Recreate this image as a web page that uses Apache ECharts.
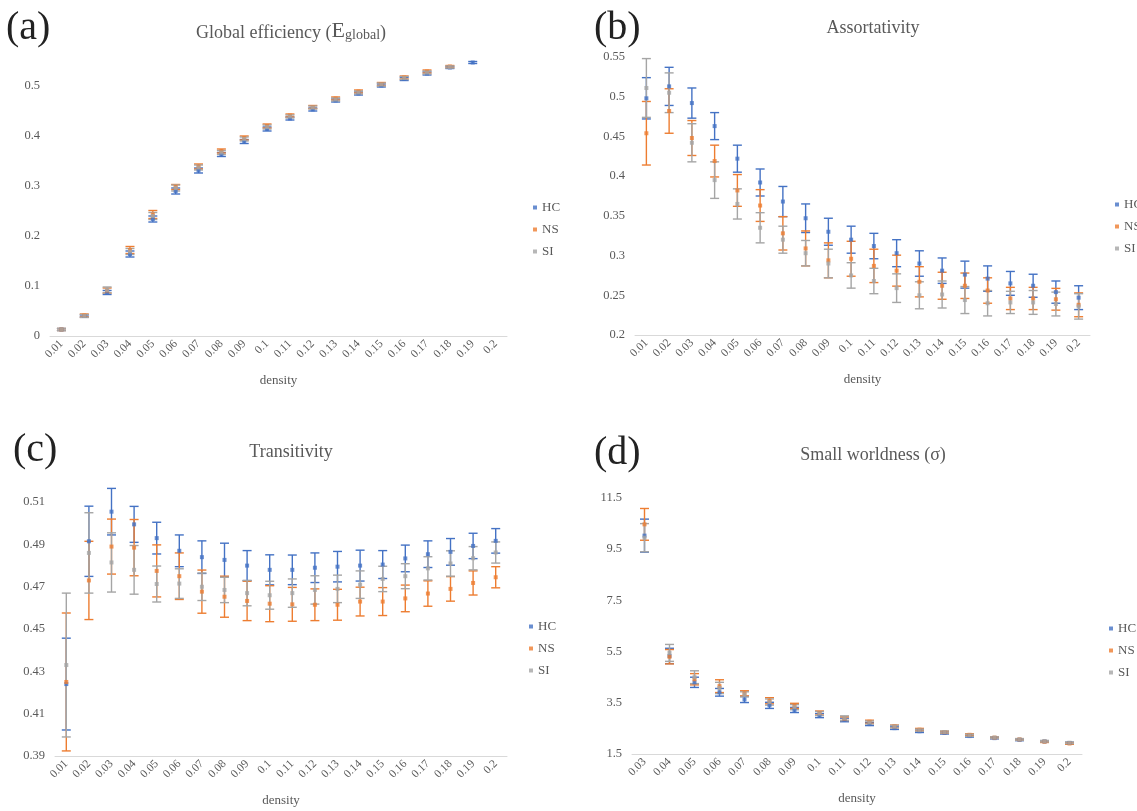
<!DOCTYPE html>
<html>
<head>
<meta charset="utf-8">
<script src="https://cdn.jsdelivr.net/npm/echarts@6/dist/echarts.min.js"></script>
<style>
  html, body { margin: 0; padding: 0; background: #fff; }
  #chart { width: 1137px; height: 811px; }
</style>
</head>
<body>
<div id="chart"></div>
<script>
// density categories
const densAll = ['0.01','0.02','0.03','0.04','0.05','0.06','0.07','0.08','0.09','0.1','0.11','0.12','0.13','0.14','0.15','0.16','0.17','0.18','0.19','0.2']
const densSw = ['0.03','0.04','0.05','0.06','0.07','0.08','0.09','0.1','0.11','0.12','0.13','0.14','0.15','0.16','0.17','0.18','0.19','0.2']

// (a) global efficiency: mean and error
const effHC = [0.013,0.040,0.087,0.164,0.234,0.290,0.331,0.363,0.389,0.414,0.435,0.453,0.471,0.485,0.501,0.514,0.525,0.537,0.547,null]
const effHCErr = [0.002,0.002,0.004,0.006,0.006,0.006,0.005,0.004,0.004,0.004,0.003,0.003,0.003,0.003,0.003,0.003,0.003,0.002,0.002,null]
const effNS = [0.013,0.041,0.091,0.172,0.243,0.298,0.339,0.370,0.396,0.420,0.441,0.458,0.475,0.489,0.504,0.517,0.529,0.539,null,null]
const effNSErr = [0.002,0.003,0.005,0.007,0.008,0.005,0.005,0.004,0.004,0.004,0.003,0.003,0.003,0.003,0.003,0.003,0.003,0.002,null,null]
const effSI = [0.013,0.040,0.092,0.169,0.240,0.296,0.337,0.367,0.394,0.418,0.439,0.457,0.473,0.487,0.503,0.516,0.527,0.538,null,null]
const effSIErr = [0.002,0.003,0.006,0.006,0.007,0.006,0.005,0.004,0.004,0.004,0.003,0.003,0.003,0.003,0.003,0.003,0.003,0.002,null,null]

// (b) assortativity
const asHC = [0.498,0.513,0.492,0.463,0.422,0.392,0.368,0.347,0.330,0.320,0.312,0.303,0.290,0.281,0.276,0.271,0.265,0.262,0.254,0.247]
const asHCErr = [0.026,0.024,0.019,0.017,0.017,0.017,0.019,0.018,0.017,0.017,0.016,0.017,0.016,0.016,0.017,0.016,0.015,0.0145,0.014,0.015]
const asNS = [0.454,0.482,0.448,0.419,0.382,0.363,0.328,0.309,0.294,0.296,0.287,0.281,0.267,0.262,0.262,0.256,0.246,0.246,0.245,0.238]
const asNSErr = [0.040,0.028,0.022,0.020,0.020,0.020,0.021,0.022,0.022,0.022,0.021,0.0195,0.019,0.017,0.016,0.016,0.014,0.014,0.0137,0.015]
const asSI = [0.511,0.505,0.442,0.395,0.365,0.335,0.320,0.303,0.290,0.275,0.268,0.259,0.250,0.251,0.244,0.240,0.241,0.241,0.239,0.236]
const asSIErr = [0.037,0.025,0.024,0.023,0.019,0.019,0.017,0.016,0.018,0.016,0.016,0.018,0.017,0.017,0.017,0.016,0.014,0.015,0.015,0.016]

// (c) transitivity
const trHC = [0.424,0.4915,0.5055,0.4995,0.493,0.487,0.484,0.4827,0.480,0.478,0.478,0.479,0.4795,0.480,0.4805,0.4834,0.4854,0.4865,0.4893,0.4917]
const trHCErr = [0.0217,0.0166,0.011,0.0085,0.0075,0.0075,0.0077,0.0079,0.0071,0.0071,0.007,0.007,0.0072,0.0073,0.0066,0.0063,0.0063,0.0063,0.006,0.0058]
const trNS = [0.425,0.473,0.489,0.4885,0.4775,0.475,0.4677,0.4653,0.4633,0.462,0.4617,0.4615,0.4615,0.463,0.463,0.4645,0.4668,0.469,0.4718,0.4745]
const trNSErr = [0.0326,0.0185,0.013,0.0133,0.0123,0.011,0.0102,0.0097,0.0093,0.0085,0.008,0.0075,0.0073,0.0068,0.0066,0.0063,0.006,0.0058,0.0057,0.005]
const trSI = [0.433,0.486,0.4815,0.478,0.4713,0.4715,0.470,0.4685,0.467,0.466,0.467,0.4685,0.469,0.471,0.4737,0.475,0.4787,0.481,0.4835,0.4862]
const trSIErr = [0.034,0.019,0.014,0.0115,0.0085,0.007,0.0065,0.006,0.006,0.0066,0.0067,0.0067,0.0065,0.0065,0.006,0.0059,0.0055,0.006,0.0055,0.005]

// (d) small worldness
const swHC = [10.03,5.33,4.30,3.91,3.63,3.40,3.22,3.00,2.83,2.67,2.51,2.39,2.32,2.20,2.12,2.05,1.99,1.93]
const swHCErr = [0.645,0.30,0.20,0.15,0.12,0.12,0.10,0.08,0.07,0.06,0.05,0.05,0.04,0.04,0.03,0.03,0.03,0.03]
const swNS = [10.47,5.30,4.42,4.15,3.87,3.58,3.38,3.10,2.88,2.76,2.58,2.45,2.35,2.25,2.14,2.07,1.98,1.91]
const swNSErr = [0.62,0.28,0.22,0.25,0.10,0.12,0.10,0.08,0.07,0.06,0.05,0.05,0.04,0.04,0.03,0.03,0.03,0.03]
const swSI = [9.95,5.45,4.50,4.08,3.83,3.53,3.33,3.08,2.90,2.73,2.57,2.43,2.36,2.23,2.14,2.07,2.00,1.94]
const swSIErr = [0.55,0.33,0.25,0.22,0.10,0.12,0.10,0.08,0.09,0.06,0.05,0.04,0.04,0.04,0.03,0.03,0.03,0.03]

const groups = ['HC', 'NS', 'SI']
const colors = { HC: '#4472C4', NS: '#ED7D31', SI: '#A5A5A5' }
const serif = '"Liberation Serif", "Times New Roman", serif'
const grey = '#595959'

const panels = [
  { cats: densAll, min: 0, max: 0.55, step: 0.1, hideMax: true,
    grid: { left: 50, top: 61, width: 457, height: 275 },
    legend: { left: 528, top: 196 },
    data: { HC: [effHC, effHCErr], NS: [effNS, effNSErr], SI: [effSI, effSIErr] } },
  { cats: densAll, min: 0.2, max: 0.55, step: 0.05, hideMax: false,
    grid: { left: 635, top: 57, width: 455, height: 278 },
    legend: { left: 1110, top: 193 },
    data: { HC: [asHC, asHCErr], NS: [asNS, asNSErr], SI: [asSI, asSIErr] } },
  { cats: densAll, min: 0.39, max: 0.52, step: 0.02, hideMax: true,
    grid: { left: 55, top: 481, width: 452, height: 275 },
    legend: { left: 524, top: 615 },
    data: { HC: [trHC, trHCErr], NS: [trNS, trNSErr], SI: [trSI, trSIErr] } },
  { cats: densSw, min: 1.5, max: 11.5, step: 2, hideMax: false,
    grid: { left: 632, top: 498, width: 450, height: 256 },
    legend: { left: 1104, top: 617 },
    data: { HC: [swHC, swHCErr], NS: [swNS, swNSErr], SI: [swSI, swSIErr] } },
]

function errorBars(params, api) {
  const x = api.value(0)
  const m = api.value(1)
  const e = api.value(2)
  const top = api.coord([x, m + e])
  const bot = api.coord([x, m - e])
  const c = api.visual('color')
  const hw = 4.5
  const st = { stroke: c, lineWidth: 1.4 }
  return {
    type: 'group',
    children: [
      { type: 'line', shape: { x1: top[0], y1: top[1], x2: bot[0], y2: bot[1] }, style: st },
      { type: 'line', shape: { x1: top[0] - hw, y1: top[1], x2: top[0] + hw, y2: top[1] }, style: st },
      { type: 'line', shape: { x1: bot[0] - hw, y1: bot[1], x2: bot[0] + hw, y2: bot[1] }, style: st },
    ],
  }
}

const grids = [], xAxes = [], yAxes = [], legends = [], series = []
panels.forEach((p, i) => {
  grids.push(p.grid)
  xAxes.push({
    type: 'category', gridIndex: i, data: p.cats,
    name: 'density', nameLocation: 'middle', nameGap: 38,
    nameTextStyle: { fontFamily: serif, fontSize: 13, color: grey },
    axisLine: { lineStyle: { color: '#d9d9d9', width: 1 } },
    axisTick: { show: false },
    axisLabel: { rotate: 45, fontFamily: serif, fontSize: 11.5, color: grey, margin: 6, interval: 0 },
  })
  yAxes.push({
    type: 'value', gridIndex: i, min: p.min, max: p.max, interval: p.step,
    splitLine: { show: false }, axisLine: { show: false }, axisTick: { show: false },
    axisLabel: {
      fontFamily: serif, fontSize: 12.5, color: grey, margin: 10,
      showMaxLabel: !p.hideMax,
      formatter: v => String(parseFloat(v.toFixed(2))),
    },
  })
  legends.push({
    orient: 'vertical', left: p.legend.left, top: p.legend.top,
    data: groups, icon: 'rect', itemWidth: 4, itemHeight: 4, itemGap: 9,
    textStyle: { fontFamily: serif, fontSize: 13, color: grey },
    selectedMode: false,
  })
  groups.forEach(g => {
    const [mean, err] = p.data[g]
    const bars = []
    const pts = []
    mean.forEach((m, k) => {
      if (m == null) return
      bars.push([k, m, err[k]])
      pts.push([k, m])
    })
    series.push({
      type: 'custom', name: g + ' err', xAxisIndex: i, yAxisIndex: i,
      itemStyle: { color: colors[g] }, renderItem: errorBars, data: bars, silent: true,
    })
    series.push({
      type: 'scatter', name: g, xAxisIndex: i, yAxisIndex: i,
      symbol: 'rect', symbolSize: 4, itemStyle: { color: colors[g] }, data: pts, silent: true,
    })
  })
})

const titleFont = '18px ' + serif
const labelFont = '40px ' + serif
const graphic = [
  { type: 'text', left: 6, top: 8, style: { text: '(a)', font: labelFont, fill: '#222' } },
  { type: 'text', left: 594, top: 8, style: { text: '(b)', font: labelFont, fill: '#222' } },
  { type: 'text', left: 13, top: 430, style: { text: '(c)', font: labelFont, fill: '#222' } },
  { type: 'text', left: 594, top: 433, style: { text: '(d)', font: labelFont, fill: '#222' } },
  { type: 'text', x: 291, y: 31, style: {
      text: '{t|Global efficiency (}{e|E}{s|global}{t|)}', textAlign: 'center', textVerticalAlign: 'middle',
      rich: {
        t: { font: titleFont, fill: grey, verticalAlign: 'bottom', lineHeight: 22 },
        e: { font: '22px ' + serif, fill: grey, verticalAlign: 'bottom', lineHeight: 22 },
        s: { font: '14px ' + serif, fill: grey, verticalAlign: 'bottom', lineHeight: 14 },
      } } },
  { type: 'text', x: 873, y: 28, style: { text: 'Assortativity', font: titleFont, fill: grey, textAlign: 'center', textVerticalAlign: 'middle' } },
  { type: 'text', x: 291, y: 452, style: { text: 'Transitivity', font: titleFont, fill: grey, textAlign: 'center', textVerticalAlign: 'middle' } },
  { type: 'text', x: 873, y: 455, style: { text: 'Small worldness (σ)', font: titleFont, fill: grey, textAlign: 'center', textVerticalAlign: 'middle' } },
]

const chart = echarts.init(document.getElementById('chart'), null, { renderer: 'canvas' })
chart.setOption({
  backgroundColor: '#fff',
  animation: false,
  grid: grids,
  xAxis: xAxes,
  yAxis: yAxes,
  legend: legends,
  series: series,
  graphic: graphic,
})
</script>
</body>
</html>
